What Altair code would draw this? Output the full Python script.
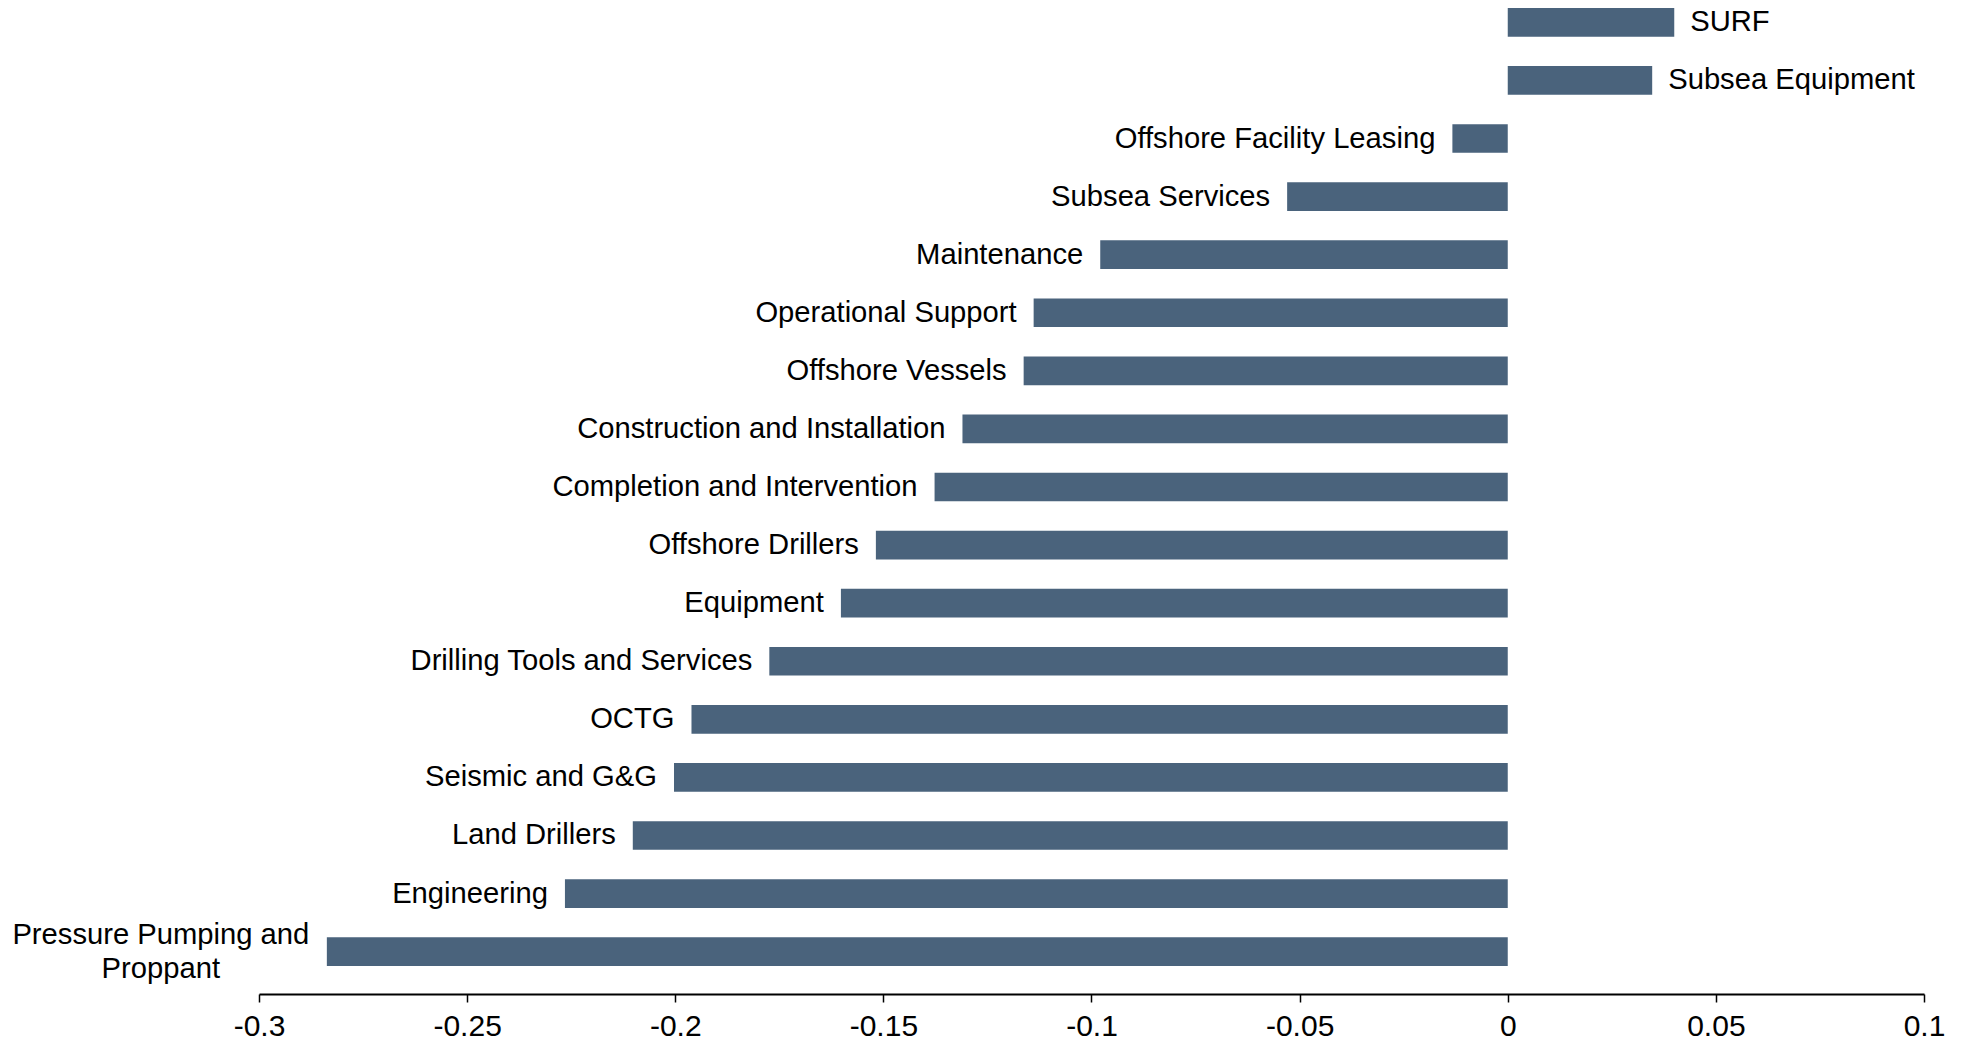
import altair as alt
import pandas as pd

categories = [
    "SURF",
    "Subsea Equipment",
    "Offshore Facility Leasing",
    "Subsea Services",
    "Maintenance",
    "Operational Support",
    "Offshore Vessels",
    "Construction and Installation",
    "Completion and Intervention",
    "Offshore Drillers",
    "Equipment",
    "Drilling Tools and Services",
    "OCTG",
    "Seismic and G&G",
    "Land Drillers",
    "Engineering",
    "Pressure Pumping and Proppant",
]
values = [
    0.0400, 0.0347, -0.0133, -0.0530, -0.0979, -0.1139, -0.1163, -0.1310,
    -0.1377, -0.1518, -0.1602, -0.1774, -0.1961, -0.2003, -0.2102, -0.2265,
    -0.2837,
]
labels = [
    "SURF",
    "Subsea Equipment",
    "Offshore Facility Leasing",
    "Subsea Services",
    "Maintenance",
    "Operational Support",
    "Offshore Vessels",
    "Construction and Installation",
    "Completion and Intervention",
    "Offshore Drillers",
    "Equipment",
    "Drilling Tools and Services",
    "OCTG",
    "Seismic and G&G",
    "Land Drillers",
    "Engineering",
    "Pressure Pumping and\nProppant",
]
tick_values = [-0.3, -0.25, -0.2, -0.15, -0.1, -0.05, 0, 0.05, 0.1]

df = pd.DataFrame({"category": categories, "value": values, "label": labels})

FONT = "Liberation Sans"
BAR = "#4a637c"
FS = 29.2

y_enc = alt.Y(
    "category:N",
    sort=categories,
    axis=None,
    scale=alt.Scale(paddingInner=0.506, paddingOuter=0),
)
x_enc = alt.X(
    "value:Q",
    scale=alt.Scale(domain=[-0.3, 0.1], nice=False, zero=False),
    axis=alt.Axis(
        values=tick_values,
        labelExpr="'' + datum.value",
        title=None,
        grid=False,
        domainColor="#000000",
        domainWidth=2,
        tickColor="#000000",
        tickWidth=1.5,
        tickSize=8,
        labelFontSize=30,
        labelFont=FONT,
        labelColor="#000000",
        labelPadding=9,
        offset=28,
        labelFlush=False,
    ),
)

base = alt.Chart(df)

bars = base.mark_bar(color=BAR).encode(
    x=x_enc,
    x2=alt.datum(0),
    y=y_enc,
)

y_txt = alt.Y("category:N", sort=categories, axis=None)

pos_text = base.transform_filter("datum.value >= 0").mark_text(
    align="left", baseline="middle", dx=16, dy=0, fontSize=FS, font=FONT, color="#000000"
).encode(x="value:Q", y=y_txt, text="label:N")

neg_text = base.transform_filter(
    "datum.value < 0 && indexof(datum.label, '\\n') < 0"
).mark_text(
    align="right", baseline="middle", dx=-17, dy=0, fontSize=FS, font=FONT, color="#000000"
).encode(x="value:Q", y=y_txt, text="label:N")

multi_text = base.transform_filter(
    "indexof(datum.label, '\\n') >= 0"
).mark_text(
    align="center", baseline="middle", dx=-166, dy=-17, fontSize=FS, font=FONT,
    color="#000000", lineBreak="\n", lineHeight=34,
).encode(x="value:Q", y=y_txt, text="label:N")

chart = (
    alt.layer(bars, pos_text, neg_text, multi_text)
    .properties(
        width=1665,
        height=958,
        autosize=alt.AutoSizeParams(type="none"),
        padding={"left": 251, "top": 0, "right": 34, "bottom": 71},
        background="#ffffff",
    )
    .configure_view(strokeWidth=0, stroke="transparent")
)

chart.save("out.html", embed_options={"renderer": "svg", "actions": False})
